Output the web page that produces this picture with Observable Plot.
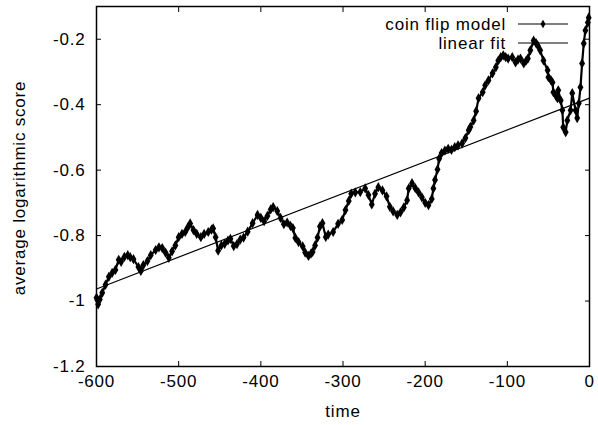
<!DOCTYPE html>
<html><head><meta charset="utf-8">
<script src="https://cdn.jsdelivr.net/npm/d3@7"></script>
<script src="https://cdn.jsdelivr.net/npm/@observablehq/plot@0.6"></script>
<style>body{margin:0;background:#fff} svg{display:block}</style>
</head><body><div id="chart"></div>
<script>
const times = [-600,-599,-598,-596,-593,-589,-585,-581,-577,-573,-570,-566,-562,-559,-555,-549,-546,-543,-538,-534,-528,-524,-520,-516,-512,-508,-504,-500,-496,-492,-489,-486,-482,-478,-473,-469,-464,-460,-458,-455,-452,-448,-444,-440,-437,-433,-429,-425,-421,-416,-410,-404,-400,-396,-392,-388,-385,-380,-376,-372,-368,-364,-361,-358,-354,-349,-346,-342,-339,-337,-334,-331,-328,-325,-321,-318,-312,-306,-301,-297,-293,-290,-285,-279,-273,-269,-265,-261,-257,-252,-247,-243,-239,-234,-230,-226,-222,-220,-216,-212,-208,-204,-200,-196,-192,-190,-188,-185,-183,-180,-176,-172,-168,-164,-160,-155,-151,-147,-145,-141,-138,-135,-130,-127,-123,-118,-114,-111,-108,-105,-102,-99,-94,-90,-87,-84,-80,-77,-75,-72,-68,-65,-63,-60,-56,-51,-50,-47,-45,-44,-41,-39,-38,-35,-33,-32,-29,-27,-23,-21,-17,-15,-13,-11,-9,-7,-5,-2,-1];
const scores = [-0.99,-0.996,-1.01,-0.995,-0.975,-0.95,-0.926,-0.914,-0.905,-0.874,-0.88,-0.865,-0.86,-0.866,-0.872,-0.896,-0.908,-0.89,-0.878,-0.86,-0.844,-0.836,-0.838,-0.852,-0.868,-0.848,-0.83,-0.805,-0.795,-0.789,-0.775,-0.763,-0.783,-0.795,-0.805,-0.795,-0.789,-0.782,-0.778,-0.805,-0.846,-0.83,-0.825,-0.815,-0.81,-0.832,-0.826,-0.812,-0.806,-0.788,-0.762,-0.737,-0.746,-0.756,-0.74,-0.72,-0.713,-0.725,-0.746,-0.765,-0.76,-0.77,-0.777,-0.807,-0.82,-0.833,-0.852,-0.862,-0.855,-0.85,-0.83,-0.806,-0.772,-0.762,-0.804,-0.797,-0.789,-0.764,-0.752,-0.722,-0.694,-0.672,-0.668,-0.667,-0.656,-0.676,-0.705,-0.672,-0.652,-0.662,-0.68,-0.712,-0.726,-0.737,-0.729,-0.714,-0.692,-0.656,-0.64,-0.655,-0.668,-0.683,-0.7,-0.707,-0.688,-0.656,-0.63,-0.598,-0.565,-0.548,-0.54,-0.535,-0.538,-0.53,-0.524,-0.518,-0.502,-0.478,-0.468,-0.448,-0.42,-0.38,-0.362,-0.341,-0.326,-0.304,-0.286,-0.265,-0.255,-0.249,-0.255,-0.259,-0.255,-0.271,-0.262,-0.259,-0.274,-0.265,-0.259,-0.234,-0.204,-0.212,-0.219,-0.234,-0.265,-0.295,-0.316,-0.325,-0.332,-0.362,-0.372,-0.38,-0.356,-0.387,-0.417,-0.469,-0.484,-0.448,-0.417,-0.365,-0.417,-0.441,-0.396,-0.347,-0.274,-0.213,-0.173,-0.149,-0.134];
const fitTimes = [-600, 0];
const fitScores = [-0.963, -0.38];
const xTicks = [-600, -500, -400, -300, -200, -100, 0];
const yTicks = [-1.2, -1, -0.8, -0.6, -0.4, -0.2];
const seriesNames = ["coin flip model", "linear fit"];
const xLabel = "time";
const yLabel = "average logarithmic score";

const coin = times.map((t, i) => ({t, v: scores[i]}));
const fit = fitTimes.map((t, i) => ({t, v: fitScores[i]}));
const fmt = d => String(d);
const font = "'Liberation Sans', Arial, sans-serif";

const chart = Plot.plot({
  width: 598, height: 425,
  marginLeft: 96, marginRight: 9, marginTop: 6, marginBottom: 59,
  style: {fontFamily: font, fontSize: "17px", letterSpacing: "0.8px", color: "#000", background: "#fff"},
  x: {domain: [-600, 0], label: null},
  y: {domain: [-1.2, -0.1], label: null},
  marks: [
    Plot.frame({stroke: "#000", strokeWidth: 1.5}),
    Plot.axisX(xTicks, {anchor: "bottom", tickSize: -5, tickPadding: 13, tickFormat: fmt}),
    Plot.axisX(xTicks, {anchor: "top", tickSize: -5, tickFormat: () => ""}),
    Plot.axisY(yTicks, {anchor: "left", tickSize: -5, tickPadding: 16, tickFormat: fmt}),
    Plot.axisY(yTicks, {anchor: "right", tickSize: -5, tickFormat: () => ""}),
    Plot.line(fit, {x: "t", y: "v", stroke: "#000", strokeWidth: 1.2}),
    Plot.line(coin, {x: "t", y: "v", stroke: "#000", strokeWidth: 2.2}),
    Plot.dot(coin, {x: "t", y: "v", symbol: "diamond", r: 3.1, fill: "#000"})
  ]
});

const svg = d3.select(chart);
const g = svg.append("g").attr("font-family", font).attr("font-size", 17).attr("fill", "#000").style("letter-spacing", "0.8px");
g.append("text").attr("x", 506).attr("y", 24).attr("dy", "0.35em").attr("text-anchor", "end").text(seriesNames[0]);
g.append("text").attr("x", 506).attr("y", 43).attr("dy", "0.35em").attr("text-anchor", "end").text(seriesNames[1]);
g.append("line").attr("x1", 518).attr("x2", 568).attr("y1", 24).attr("y2", 24).attr("stroke", "#000").attr("stroke-width", 1.2);
g.append("path").attr("d", d3.symbol(d3.symbolDiamond, 2.6 * 2.6 * Math.PI)()).attr("transform", "translate(543,24)");
g.append("line").attr("x1", 518).attr("x2", 568).attr("y1", 43).attr("y2", 43).attr("stroke", "#000").attr("stroke-width", 1.2);
g.append("text").attr("x", 343).attr("y", 417).attr("text-anchor", "middle").text(xLabel);
g.append("text").attr("transform", "translate(25,188) rotate(-90)").attr("text-anchor", "middle").text(yLabel);

document.getElementById("chart").appendChild(chart);
</script>
</body></html>
